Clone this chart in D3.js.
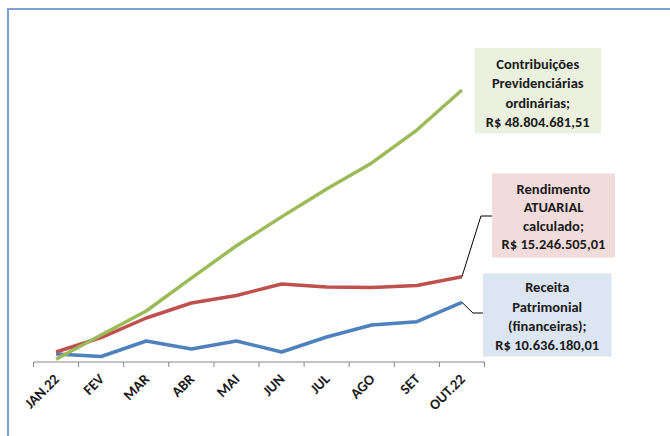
<!DOCTYPE html>
<html>
<head>
<meta charset="utf-8">
<script src="https://cdn.jsdelivr.net/npm/d3@7"></script>
<style>
html,body{margin:0;padding:0;background:#fff;}
svg{display:block;}
text{font-family:Carlito,"Liberation Sans",Arial,sans-serif;font-weight:bold;fill:#1a1a1a;}
</style>
</head>
<body>
<svg id="chart" width="670" height="436"></svg>
<script>
const categories = ["JAN.22","FEV","MAR","ABR","MAI","JUN","JUL","AGO","SET","OUT.22"];
// values in R$ (cumulative)
const contribuicoes = [0.40e6, 4.76e6, 9.08e6, 15.0e6, 20.8e6, 26.0e6, 31.0e6, 35.7e6, 41.6e6, 48804681.51];
const rendimento    = [1.71e6, 4.31e6, 7.82e6, 10.52e6, 11.86e6, 13.93e6, 13.40e6, 13.30e6, 13.66e6, 15246505.01];
const receita       = [1.35e6, 0.90e6, 3.69e6, 2.25e6, 3.69e6, 1.71e6, 4.40e6, 6.56e6, 7.15e6, 10636180.01];
const seriesNames = [
  ["Contribuições","Previdenciárias","ordinárias;","R$ 48.804.681,51"],
  ["Rendimento","ATUARIAL","calculado;","R$ 15.246.505,01"],
  ["Receita","Patrimonial","(financeiras);","R$ 10.636.180,01"]
];

const svg = d3.select("#chart");

// outer frame (top + left border)
svg.append("line").attr("x1",8).attr("x2",670).attr("y1",9).attr("y2",9)
  .attr("stroke","#7ea0d4").attr("stroke-width",2);
svg.append("line").attr("x1",8).attr("x2",8).attr("y1",8).attr("y2",436)
  .attr("stroke","#7ea0d4").attr("stroke-width",2);

const x = d3.scaleBand().domain(categories).range([33.5, 484.5]).padding(0);
const y = d3.scaleLinear().domain([0, 60e6]).range([361.5, 27.7]);

// axis
const axisG = svg.append("g").attr("transform","translate(0,362)");
axisG.append("line").attr("x1",x.range()[0]).attr("x2",x.range()[1])
  .attr("stroke","#868686").attr("stroke-width",1);
const tickPos = categories.map(c => x(c)).concat([x.range()[1]]);
axisG.selectAll("line.tick").data(tickPos).enter().append("line")
  .attr("class","tick").attr("x1",d=>d).attr("x2",d=>d).attr("y1",0).attr("y2",5)
  .attr("stroke","#868686").attr("stroke-width",1);
axisG.selectAll("text").data(categories).enter().append("text")
  .attr("text-anchor","end")
  .attr("font-size","14.5px")
  .attr("transform",d=>`translate(${x(d)+x.bandwidth()/2+4},${18}) rotate(-45)`)
  .text(d=>d);

const cx = d => x(d) + x.bandwidth()/2;
const line = d3.line().x((d,i)=>cx(categories[i])).y(d=>y(d));

const series = [
  {vals: contribuicoes, color:"#9bbb59"},
  {vals: rendimento, color:"#c0504d"},
  {vals: receita, color:"#4f81bd"}
];
// draw order: blue, red, green on top
[series[2], series[1], series[0]].forEach(s=>{
  svg.append("path").datum(s.vals).attr("d",line)
    .attr("fill","none").attr("stroke",s.color).attr("stroke-width",3.5)
    .attr("stroke-linejoin","round");
});

// leader lines
const lastX = cx(categories[categories.length-1]);
svg.append("polyline")
  .attr("points",`${lastX},${y(rendimento[9])} ${lastX+19},216 ${lastX+30},216`)
  .attr("fill","none").attr("stroke","#000").attr("stroke-width",1);
svg.append("polyline")
  .attr("points",`${lastX},${y(receita[9])} ${lastX+11},313 ${lastX+21},313`)
  .attr("fill","none").attr("stroke","#000").attr("stroke-width",1);

// label boxes
const boxes = [
  {x:474.5, y:48, w:126.5, h:85.5, fill:"#ebf1de", lines:seriesNames[0], ty:[63.5,83,102.5,122]},
  {x:492, y:173.5, w:123, h:84, fill:"#f2dcdb", lines:seriesNames[1], ty:[188.5,207,225.5,244]},
  {x:483, y:273.5, w:128.5, h:83, fill:"#dce6f2", lines:seriesNames[2], ty:[287,306.5,326,345]}
];
boxes.forEach(b=>{
  svg.append("rect").attr("x",b.x).attr("y",b.y).attr("width",b.w).attr("height",b.h).attr("fill",b.fill);
  b.lines.forEach((t,i)=>{
    svg.append("text").attr("x",b.x+b.w/2).attr("y",b.ty[i]).attr("dy","0.35em")
      .attr("text-anchor","middle").attr("font-size","14.5px").text(t);
  });
});
</script>
</body>
</html>
